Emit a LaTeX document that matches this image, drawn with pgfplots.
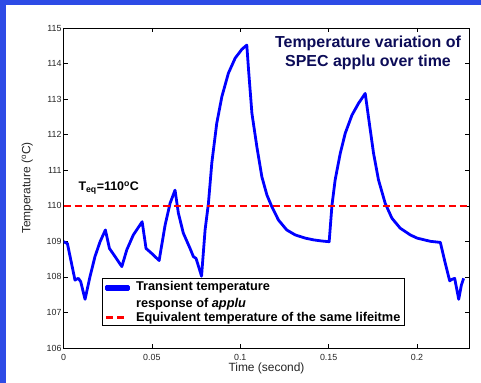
\documentclass[border=0pt]{standalone}
\usepackage{fontspec}
\setmainfont{Liberation Sans}
\usepackage{pgfplots}
\pgfplotsset{compat=1.18}
\definecolor{navy}{RGB}{12,12,88}
\definecolor{bgblue}{RGB}{45,75,230}
\begin{document}
\begin{tikzpicture}
\useasboundingbox (0,0) rectangle (481bp,383bp);
\fill[bgblue] (0,0) rectangle (481bp,383bp);
\fill[white] (6bp,0) rectangle (481bp,378.3bp);
\begin{axis}[
  at={(63.5bp,35bp)}, anchor=south west,
  scale only axis, width=406bp, height=320bp,
  xmin=0, xmax=0.2297, ymin=106, ymax=115,
  xtick={0,0.05,0.1,0.15,0.2},
  ytick={106,107,108,109,110,111,112,113,114,115},
  tick align=inside, major tick length=4.3bp,
  tick style={black, line width=0.5bp},
  axis line style={black, line width=0.8bp},
  ticklabel style={font=\fontsize{8.9}{10}\selectfont, text=black!85},
  /pgf/number format/assume math mode=true,
  /pgf/number format/fixed,
  xticklabel style={yshift=-3bp},
  yticklabel style={xshift=1.5bp},
  xlabel={Time (second)},
  ylabel={Temperature (\textsuperscript{o}C)},
  label style={font=\fontsize{12}{14}\selectfont, text=black!85},
  xlabel style={at={(axis description cs:0.5,-0.046)}, anchor=north, inner sep=0pt},
  ylabel style={at={(axis description cs:-0.075,0.5)}, anchor=south, inner sep=0pt},
  legend cell align=left,
  legend style={at={(axis description cs:0.094,0.069)}, anchor=south west,
    font=\fontsize{12.8}{15.5}\selectfont\bfseries, draw=black, line width=0.8bp,
    fill=white, inner xsep=3bp, inner ysep=1.5bp, row sep=0.5bp, column sep=5bp,
    cells={align=left}, nodes={inner sep=1.2bp}},
  legend image code/.code={\draw[#1] (0bp,0bp) -- (22bp,0bp);},
]
\addplot[blue, line width=2.8bp, line join=round,
  legend image code/.code={\fill[blue] (0bp,5.9bp) rectangle (22bp,8.7bp);}] coordinates {
(0,108.99) (0.0022,108.94) (0.0065,107.91) (0.0084,107.96) (0.0097,107.87)
(0.0122,107.37) (0.015,108.01) (0.0178,108.57) (0.0207,108.99) (0.0237,109.32)
(0.026,108.8) (0.0292,108.57) (0.033,108.29) (0.0358,108.76) (0.0395,109.18)
(0.0445,109.55) (0.0467,108.8) (0.0499,108.66) (0.0541,108.46) (0.0575,109.46)
(0.0603,110.07) (0.0631,110.44) (0.065,109.79) (0.0678,109.23) (0.0716,108.8)
(0.0735,108.57) (0.075,108.52) (0.0781,108.02) (0.0801,109.32) (0.082,110.07)
(0.0839,111.2) (0.0867,112.32) (0.0896,113.07) (0.0933,113.73) (0.0971,114.15)
(0.1009,114.40) (0.1037,114.52) (0.1047,113.82) (0.1066,112.6) (0.1094,111.66)
(0.1122,110.82) (0.1151,110.30) (0.1179,109.97) (0.1216,109.6) (0.1263,109.32)
(0.1311,109.18) (0.1368,109.09) (0.1416,109.04) (0.146,109.01) (0.1503,108.99)
(0.1519,110.02) (0.1537,110.73) (0.1566,111.48) (0.1594,112.04) (0.1632,112.55)
(0.1669,112.88) (0.1707,113.16) (0.1725,112.51) (0.1754,111.48) (0.1782,110.73)
(0.182,110.07) (0.1858,109.65) (0.1905,109.37) (0.1962,109.18) (0.2001,109.09)
(0.2076,109.0) (0.2132,108.97) (0.216,108.38) (0.2185,107.89) (0.2198,107.93)
(0.2213,107.96) (0.2236,107.37) (0.2251,107.77) (0.2264,107.96)
};
\addlegendentry{{Transient temperature\\[1.5bp]response of \textit{applu}}}
\addplot[red, line width=2.5bp, dash pattern=on 7bp off 4bp] coordinates {(0,110) (0.2297,110)};
\addlegendentry{Equivalent temperature of the same lifeitme}
\node[anchor=base west, font=\fontsize{12.5}{14}\selectfont\bfseries] at (axis cs:0.0065,110.42) {T\textsubscript{eq}=110\textsuperscript{o}C};
\end{axis}
\node[anchor=base, font=\fontsize{16}{19}\selectfont\bfseries, text=navy] at (368bp,335.5bp) {Temperature variation of};
\node[anchor=base, font=\fontsize{16}{19}\selectfont\bfseries, text=navy] at (368bp,316bp) {SPEC applu over time};
\end{tikzpicture}
\end{document}
